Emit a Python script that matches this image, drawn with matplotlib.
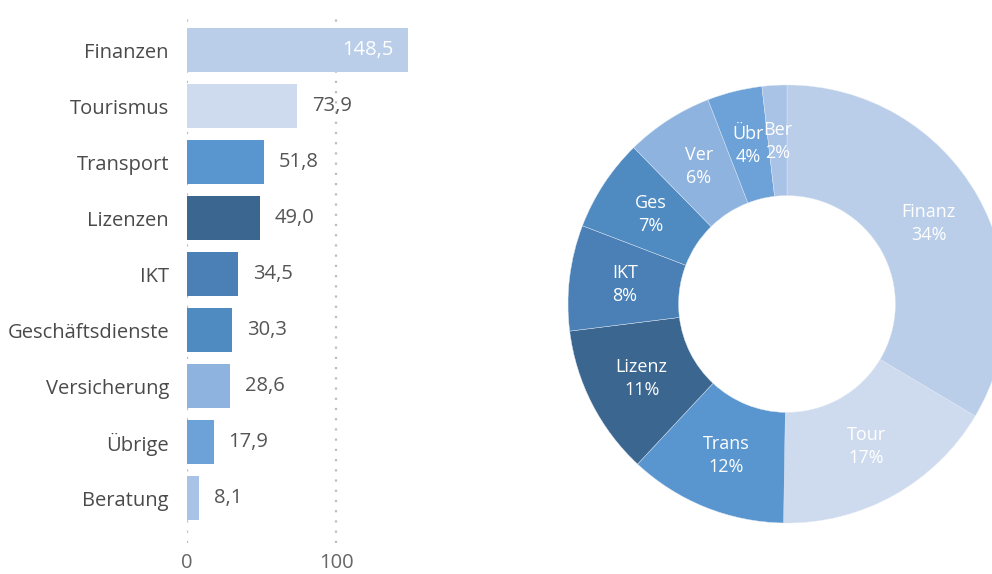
import matplotlib
matplotlib.use("Agg")
import matplotlib.pyplot as plt
import numpy as np

plt.rcParams['font.family'] = ['Open Sans', 'DejaVu Sans']

categories = ["Finanzen", "Tourismus", "Transport", "Lizenzen", "IKT",
              "Geschäftsdienste", "Versicherung", "Übrige", "Beratung"]
short_names = ["Finanz", "Tour", "Trans", "Lizenz", "IKT", "Ges", "Ver", "Übr", "Ber"]
values = [148.5, 73.9, 51.8, 49.0, 34.5, 30.3, 28.6, 17.9, 8.1]
colors = ["#BACEE9", "#CEDBEE", "#5996CF", "#3A668F", "#4A80B5",
          "#4F8AC1", "#8FB3DF", "#6CA2D8", "#A9C3E6"]
xticks = [0, 100]

W, H = 992, 574
fig = plt.figure(figsize=(W / 100, H / 100), dpi=100)

def px_axes(left, top, right, bottom):
    return fig.add_axes([left / W, 1 - bottom / H, (right - left) / W, (bottom - top) / H])

# ---- bar chart ----
ax = px_axes(187, 12, 187 + 150 * 1.49, 543)
y = np.arange(len(categories))
ax.barh(y, values, height=0.79, color=colors, zorder=2)
ax.set_xlim(0, 150)
ax.set_ylim(8.80, -0.68)
for s in ax.spines.values():
    s.set_visible(False)
fs = 14.5
ax.set_xticks(xticks)
ax.set_xticklabels([str(t) for t in xticks], fontsize=fs, color="#666666")
ax.set_yticks(y)
ax.set_yticklabels(categories, fontsize=fs, color="#4a4a4a")
ax.tick_params(length=0)
ax.tick_params(axis='y', pad=13)
ax.tick_params(axis='x', pad=7)
for t in xticks:
    ax.axvline(t, color="#bdbdbd", lw=1.6, ls=(0, (1, 3.6)), zorder=1)
for i, v in enumerate(values):
    lab = f"{v:.1f}".replace(".", ",")
    if v > 120:
        ax.annotate(lab, (v, i), xytext=(-15, 0), textcoords="offset pixels",
                    ha="right", va="center", fontsize=fs, color="white")
    else:
        ax.annotate(lab, (v, i), xytext=(15, 0), textcoords="offset pixels",
                    ha="left", va="center", fontsize=fs, color="#555555")

# ---- donut ----
cx, cy, R = 787, 304, 219
ax2 = px_axes(cx - R, cy - R, cx + R, cy + R)
total = sum(values)
wedges, _ = ax2.pie(values, colors=colors, startangle=90, counterclock=False,
                    radius=1.0, wedgeprops=dict(width=0.505, edgecolor="#dfe8f4", linewidth=0.3))
ax2.set_xlim(-1, 1)
ax2.set_ylim(-1, 1)
ax2.set_aspect('equal')
ax2.axis('off')
start = 90.0
rmid = 0.745
for name, v in zip(short_names, values):
    frac = v / total
    mid = start - frac * 360 / 2
    start -= frac * 360
    a = np.deg2rad(mid)
    ax2.text(rmid * np.cos(a), rmid * np.sin(a), f"{name}\n{frac * 100:.0f}%",
             ha="center", va="center", fontsize=13, color="white", linespacing=1.35)

fig.savefig("out.png", dpi=100)
